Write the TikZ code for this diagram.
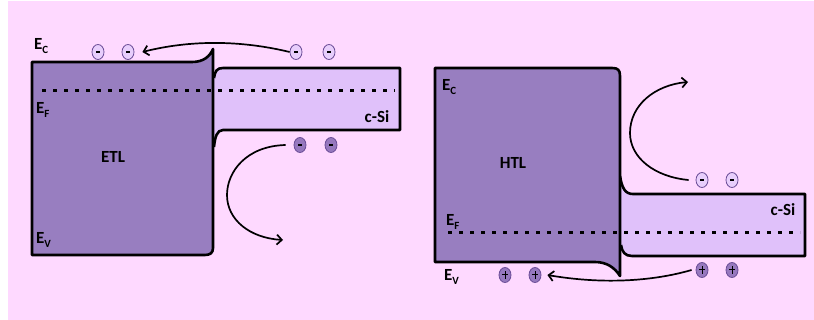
\documentclass[tikz,border=0pt]{standalone}
\usepackage{fontspec}
\setmainfont{Carlito}
\usetikzlibrary{arrows.meta,shapes.geometric}
\definecolor{bgpink}{RGB}{254,217,255}
\definecolor{layerfill}{RGB}{152,126,192}
\definecolor{sifill}{RGB}{224,193,250}
\definecolor{lightcar}{RGB}{232,206,252}
\definecolor{darkcar}{RGB}{150,120,190}
\definecolor{carline}{RGB}{105,75,150}
\newcommand\bandlbl[2]{\textbf{#1}\raisebox{-0.55ex}{\fontsize{11}{13}\selectfont\textbf{#2}}}
\tikzset{
  bandbox/.style={draw=black,line width=2.6pt,line join=round},
  fermi/.style={line width=3pt,dash pattern=on 4pt off 7pt},
  lbl/.style={inner sep=0pt,font=\fontsize{17}{20}\selectfont\bfseries},
  carrier/.style={ellipse,draw=carline,line width=0.8pt,minimum width=12pt,minimum height=15pt,inner sep=0pt},
  elec/.style={carrier,fill=lightcar,path picture={\draw[line width=1.5pt,black] ([xshift=-2pt]path picture bounding box.center) -- ([xshift=2pt]path picture bounding box.center);}},
  delec/.style={carrier,fill=darkcar,path picture={\draw[line width=1.5pt,black] ([xshift=-2pt]path picture bounding box.center) -- ([xshift=2pt]path picture bounding box.center);}},
  hole/.style={carrier,fill=darkcar,path picture={\draw[line width=1pt,black] ([xshift=-3.2pt]path picture bounding box.center) -- ([xshift=3.2pt]path picture bounding box.center) ([yshift=-3.8pt]path picture bounding box.center) -- ([yshift=3.8pt]path picture bounding box.center);}},
  flow/.style={line width=1.7pt,-{Straight Barb[length=5pt,width=10pt,line width=1.7pt]}}
}
\begin{document}
\begin{tikzpicture}[x=1pt,y=-1pt]
\fill[white] (0,0) rectangle (814,320);
\fill[bgpink] (8,1) rectangle (814,320);
\useasboundingbox (0,0) rectangle (814,320);

% ---------- left panel ----------
\fill[sifill] (214,78) .. controls (215,71) and (217,68) .. (223,68) -- (400,68) -- (400,130) -- (223,130) .. controls (217,130) and (215,137) .. (214,147) -- cycle;
\draw[bandbox] (214,78) .. controls (215,71) and (217,68) .. (223,68) -- (400,68) -- (400,130) -- (223,130) .. controls (217,130) and (215,137) .. (214,147);
\filldraw[bandbox,fill=layerfill] (32,62) -- (192,62) .. controls (204,62) and (210,56) .. (213,49) -- (213,248) .. controls (213,253) and (210,255) .. (205,255) -- (32,255) -- cycle;
\draw[fermi] (42,91) -- (395,91);

\node[lbl,anchor=west] (ecL) at (34,46) {\bandlbl{E}{C}};
\node[lbl,anchor=west] (efL) at (36,110) {\bandlbl{E}{F}};
\node[lbl,anchor=west] (evL) at (36,240) {\bandlbl{E}{V}};
\node[lbl] (etl) at (113,157) {ETL};
\node[lbl] (csiL) at (377,117) {c-Si};

\node[elec] (eL1) at (98,52) {};
\node[elec] (eL2) at (128,52) {};
\node[elec] (eR1) at (296,52) {};
\node[elec] (eR2) at (329,52) {};
\node[delec] (dL1) at (300,145) {};
\node[delec] (dL2) at (331,145) {};

\draw[flow] (eR1.west) .. controls (240,40) and (190,40) .. ([xshift=8pt]eL2.east);
\coordinate (tipL) at (283,240);
\draw[flow] ([xshift=-8pt]dL1.west) .. controls (246,146) and (227,172) .. (227,195) .. controls (227,220) and (250,238) .. (tipL);

% ---------- right panel ----------
\fill[sifill] (620,176) .. controls (622,188) and (625,194) .. (633,194) -- (805,194) -- (805,256) -- (632,256) .. controls (625,256) and (622,252) .. (621,245) -- cycle;
\draw[bandbox] (620,176) .. controls (622,188) and (625,194) .. (633,194) -- (805,194) -- (805,256) -- (632,256) .. controls (625,256) and (622,252) .. (621,245);
\filldraw[bandbox,fill=layerfill] (435,68) -- (612,68) .. controls (618,68) and (620,70) .. (620,76) -- (620,276) .. controls (615,268) and (607,262) .. (595,262) -- (435,262) -- cycle;
\draw[fermi] (448,233) -- (800,233);

\node[lbl,anchor=west] (ecR) at (442,87) {\bandlbl{E}{C}};
\node[lbl,anchor=west] (efR) at (446,222) {\bandlbl{E}{F}};
\node[lbl,anchor=west] (evR) at (444,277) {\bandlbl{E}{V}};
\node[lbl] (htl) at (513,163) {HTL};
\node[lbl] (csiR) at (783,210) {c-Si};

\node[elec] (eS1) at (702,180) {};
\node[elec] (eS2) at (732,180) {};
\node[hole] (hL1) at (505,275) {};
\node[hole] (hL2) at (535,275) {};
\node[hole] (hR1) at (702,270) {};
\node[hole] (hR2) at (732,270) {};

\coordinate (tipR) at (688,82);
\draw[flow] ([xshift=-7pt]eS1.west) .. controls (655,177) and (630,158) .. (630,133) .. controls (630,105) and (655,85) .. (tipR);
\draw[flow] ([xshift=-4pt]hR1.west) .. controls (650,282) and (600,284) .. ([xshift=6pt]hL2.east);
\end{tikzpicture}
\end{document}
